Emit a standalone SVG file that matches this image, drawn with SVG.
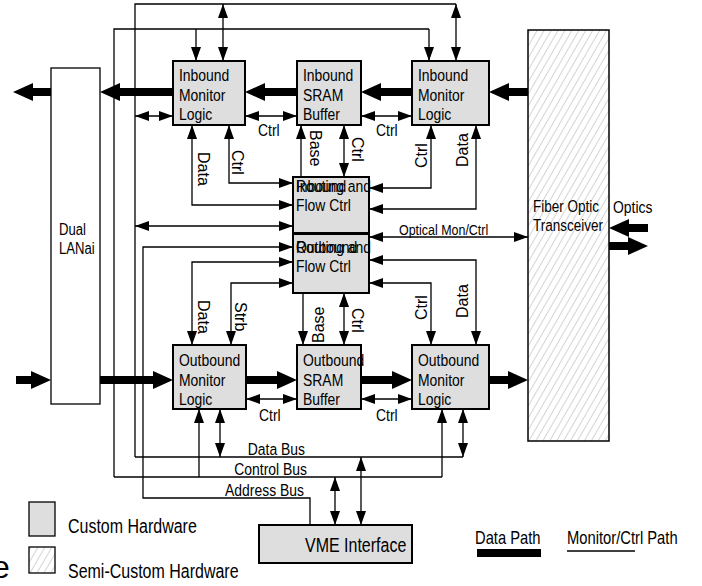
<svg xmlns="http://www.w3.org/2000/svg" width="702" height="586" viewBox="0 0 702 586">
<style>
text{font-family:"Liberation Sans",Arial,sans-serif;font-size:17px;fill:#000}
.r{font-size:16px}
.box{fill:#dedede;stroke:#000;stroke-width:2}
.ln{fill:none;stroke:#000;stroke-width:1.3}
.a{marker-end:url(#ah)}
.aa{marker-start:url(#ah);marker-end:url(#ah)}
.th{fill:none;stroke:#000;stroke-width:8;marker-end:url(#th)}
</style>
<defs>
<marker id="ah" viewBox="0 0 14 10" refX="14" refY="5" markerWidth="14" markerHeight="10" markerUnits="userSpaceOnUse" orient="auto-start-reverse"><path d="M0,0 L14,5 L0,10 z" fill="#000"/></marker>
<marker id="th" viewBox="0 0 20 18" refX="2" refY="9" markerWidth="20" markerHeight="18" markerUnits="userSpaceOnUse" orient="auto"><path d="M0,0 L20,9 L0,18 z" fill="#000"/></marker>
<pattern id="hatch" width="6" height="6" patternUnits="userSpaceOnUse" patternTransform="rotate(30)"><rect width="6" height="6" fill="#fff"/><line x1="0" y1="0" x2="0" y2="6" stroke="#b0b0b0" stroke-width="1.1"/></pattern>
</defs>

<g id="connectors">
<!-- data paths -->
<line class="th" x1="528" y1="92" x2="507" y2="92"/>
<line class="th" x1="412" y1="92" x2="379" y2="92"/>
<line class="th" x1="297" y1="92" x2="263" y2="92"/>
<line class="th" x1="173" y1="92" x2="118" y2="92"/>
<line class="th" x1="51" y1="92" x2="31" y2="92"/>
<line class="th" x1="16" y1="380" x2="33" y2="380"/>
<line class="th" x1="100" y1="380" x2="155" y2="380"/>
<line class="th" x1="246" y1="380" x2="279" y2="380"/>
<line class="th" x1="361" y1="380" x2="394" y2="380"/>
<line class="th" x1="489" y1="380" x2="510" y2="380"/>
<line class="th" x1="648" y1="228" x2="627" y2="228"/>
<line class="th" x1="609" y1="246" x2="630" y2="246"/>
<!-- top buses -->
<path class="ln" d="M135,457 V4 H456"/>
<line class="ln aa" x1="456" y1="4" x2="456" y2="61"/>
<line class="ln aa" x1="223" y1="4" x2="223" y2="61"/>
<path class="ln" d="M114,477 V29 H429"/>
<line class="ln a" x1="429" y1="29" x2="429" y2="61"/>
<line class="ln a" x1="196" y1="29" x2="196" y2="61"/>
<line class="ln aa" x1="135" y1="116" x2="173" y2="116"/>
<line class="ln aa" x1="245" y1="116" x2="297" y2="116"/>
<line class="ln aa" x1="361" y1="116" x2="412" y2="116"/>
<!-- inbound to routing -->
<path class="ln aa" d="M293,205 H192 V125"/>
<path class="ln aa" d="M293,183 H229 V125"/>
<line class="ln a" x1="301" y1="177" x2="301" y2="125"/>
<line class="ln aa" x1="344" y1="125" x2="344" y2="177"/>
<path class="ln aa" d="M369,188 H431 V125"/>
<path class="ln aa" d="M369,209 H476 V125"/>
<line class="ln aa" x1="135" y1="226" x2="293" y2="226"/>
<line class="ln aa" x1="369" y1="237" x2="528" y2="237"/>
<!-- outbound routing -->
<path class="ln" d="M293,247 H143 V498 H310 V525" marker-start="url(#ah)"/>
<path class="ln aa" d="M293,262 H192 V345"/>
<path class="ln aa" d="M293,283 H231 V345"/>
<line class="ln a" x1="303" y1="293" x2="303" y2="345"/>
<line class="ln aa" x1="344" y1="293" x2="344" y2="345"/>
<path class="ln aa" d="M369,260 H476 V345"/>
<path class="ln aa" d="M369,283 H431 V345"/>
<line class="ln aa" x1="246" y1="399" x2="297" y2="399"/>
<line class="ln aa" x1="361" y1="399" x2="412" y2="399"/>
<!-- bottom buses -->
<line class="ln" x1="135" y1="457" x2="463" y2="457"/>
<line class="ln" x1="114" y1="477" x2="442" y2="477"/>
<line class="ln aa" x1="220" y1="457" x2="220" y2="409"/>
<line class="ln a" x1="199" y1="477" x2="199" y2="409"/>
<line class="ln aa" x1="463" y1="457" x2="463" y2="409"/>
<line class="ln a" x1="442" y1="477" x2="442" y2="409"/>
<line class="ln aa" x1="335" y1="477" x2="335" y2="525"/>
<line class="ln aa" x1="361" y1="457" x2="361" y2="525"/>
<!-- labels -->
<text transform="translate(258,136) scale(.82,1)">Ctrl</text>
<text transform="translate(376,136) scale(.82,1)">Ctrl</text>
<text transform="translate(259,421) scale(.82,1)">Ctrl</text>
<text transform="translate(376,421) scale(.82,1)">Ctrl</text>
<text class="r" transform="translate(198,152) rotate(90)">Data</text>
<text class="r" transform="translate(232,150) rotate(90)">Ctrl</text>
<text class="r" transform="translate(310,130) rotate(90)">Base</text>
<text class="r" transform="translate(352,137) rotate(90)">Ctrl</text>
<text class="r" transform="translate(427,168) rotate(-90)">Ctrl</text>
<text class="r" transform="translate(468,167) rotate(-90)">Data</text>
<text class="r" transform="translate(198,300) rotate(90)">Data</text>
<text class="r" transform="translate(235,302) rotate(90)">Strb</text>
<text class="r" transform="translate(324,343) rotate(-90)">Base</text>
<text class="r" transform="translate(352,308) rotate(90)">Ctrl</text>
<text class="r" transform="translate(427,320) rotate(-90)">Ctrl</text>
<text class="r" transform="translate(468,318) rotate(-90)">Data</text>
<text transform="translate(399,235) scale(.82,1)" style="font-size:15.2px">Optical Mon/Ctrl</text>
<text transform="translate(305,455) scale(.82,1)" text-anchor="end">Data Bus</text>
<text transform="translate(307,475) scale(.82,1)" text-anchor="end">Control Bus</text>
<text transform="translate(304,496) scale(.82,1)" text-anchor="end">Address Bus</text>
<text transform="translate(613,213) scale(.82,1)">Optics</text>
</g>

<g id="lanai">
<rect x="51" y="68" width="49" height="336" fill="#fff" stroke="#000" stroke-width="1.3"/>
<text transform="translate(59,235) scale(.82,1)" style="font-size:16px">Dual</text>
<text transform="translate(59,254) scale(.82,1)" style="font-size:16px">LANai</text>
</g>
<g id="inbound-monitor-left">
<rect class="box" x="173" y="61" width="72" height="64"/>
<text transform="translate(179,81) scale(.82,1)">Inbound</text><text transform="translate(179,101) scale(.82,1)">Monitor</text><text transform="translate(179,120) scale(.82,1)">Logic</text>
</g>
<g id="inbound-sram">
<rect class="box" x="297" y="61" width="64" height="64"/>
<text transform="translate(303,81) scale(.82,1)">Inbound</text><text transform="translate(303,101) scale(.82,1)">SRAM</text><text transform="translate(303,120) scale(.82,1)">Buffer</text>
</g>
<g id="inbound-monitor-right">
<rect class="box" x="412" y="61" width="77" height="64"/>
<text transform="translate(418,81) scale(.82,1)">Inbound</text><text transform="translate(418,101) scale(.82,1)">Monitor</text><text transform="translate(418,120) scale(.82,1)">Logic</text>
</g>
<g id="routing-inbound">
<rect class="box" x="293" y="177" width="76" height="56"/>
<text transform="translate(296,192) scale(.82,1)">Inbound</text><text transform="translate(296,192) scale(.82,1)">Routing and</text><text transform="translate(296,211) scale(.82,1)">Flow Ctrl</text>
</g>
<g id="routing-outbound">
<rect class="box" x="293" y="234" width="76" height="59"/>
<text transform="translate(296,253) scale(.82,1)">Outbound</text><text transform="translate(296,253) scale(.82,1)">Routing and</text><text transform="translate(296,272) scale(.82,1)">Flow Ctrl</text>
</g>
<g id="outbound-monitor-left">
<rect class="box" x="173" y="345" width="73" height="64"/>
<text transform="translate(179,366) scale(.82,1)">Outbound</text><text transform="translate(179,386) scale(.82,1)">Monitor</text><text transform="translate(179,405) scale(.82,1)">Logic</text>
</g>
<g id="outbound-sram">
<rect class="box" x="297" y="345" width="64" height="64"/>
<text transform="translate(303,366) scale(.82,1)">Outbound</text><text transform="translate(303,386) scale(.82,1)">SRAM</text><text transform="translate(303,405) scale(.82,1)">Buffer</text>
</g>
<g id="outbound-monitor-right">
<rect class="box" x="412" y="345" width="77" height="64"/>
<text transform="translate(418,366) scale(.82,1)">Outbound</text><text transform="translate(418,386) scale(.82,1)">Monitor</text><text transform="translate(418,405) scale(.82,1)">Logic</text>
</g>
<g id="fiber">
<rect x="528" y="30" width="81" height="411" fill="url(#hatch)" stroke="#000" stroke-width="1.5"/>
<text transform="translate(533,212) scale(.82,1)" style="font-size:16.5px">Fiber Optic</text>
<text transform="translate(533,231) scale(.82,1)" style="font-size:16.5px">Transceiver</text>
</g>
<g id="vme">
<rect class="box" x="259" y="525" width="153" height="38"/>
<text transform="translate(305,552) scale(.82,1)" style="font-size:19.5px">VME Interface</text>
</g>
<g id="legend">
<rect x="29" y="502" width="26" height="34" fill="#dedede" stroke="#000" stroke-width="1.3"/>
<text transform="translate(68,533) scale(.82,1)" style="font-size:19.5px">Custom Hardware</text>
<rect x="29" y="547" width="26" height="26" fill="url(#hatch)" stroke="#000" stroke-width="1.3"/>
<text transform="translate(68,578) scale(.82,1)" style="font-size:19.5px">Semi-Custom Hardware</text>
<text x="-8" y="578" style="font-size:32px">e</text>
<text transform="translate(475,544) scale(.82,1)" style="font-size:18px">Data Path</text>
<rect x="477" y="549" width="64" height="8" fill="#000"/>
<text transform="translate(567,544) scale(.82,1)" style="font-size:18px">Monitor/Ctrl Path</text>
<line x1="567" y1="551" x2="635" y2="551" stroke="#000" stroke-width="1.3"/>
</g>
</svg>
